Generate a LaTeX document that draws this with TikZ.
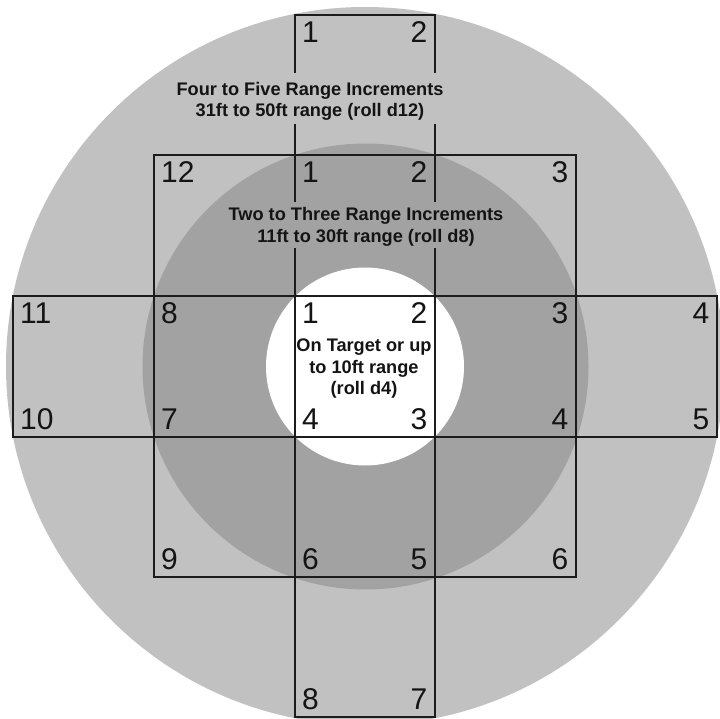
\documentclass[tikz,border=0pt]{standalone}
\usepackage{fontspec}
\setmainfont{Liberation Sans}
\definecolor{outergray}{RGB}{193,193,193}
\definecolor{innergray}{RGB}{162,162,162}
\definecolor{linecol}{RGB}{28,28,28}
\definecolor{txtcol}{RGB}{20,20,20}
\begin{document}
\begin{tikzpicture}[x=1pt,y=-1pt,
  gridline/.style={draw=linecol, line width=1.6pt, line cap=rect},
  num/.style={font=\fontsize{30}{36}\selectfont, inner sep=0pt, text=txtcol},
  lbl/.style={font=\fontsize{18.2}{22}\selectfont\bfseries, inner sep=0pt, anchor=base, text=txtcol}]
\path[use as bounding box] (0,0) rectangle (720,719);
\clip (0,0) rectangle (720,719);
\fill[white] (0,0) rectangle (720,719);
% rings
\fill[outergray] (365,366) circle [radius=359pt];
\fill[innergray] (365.5,366.5) circle [radius=223pt];
\fill[white] (365,366.5) circle [radius=99pt];
% horizontal lines
\draw[gridline] (295,15) -- (435,15);
\draw[gridline] (154,155) -- (576,155);
\draw[gridline] (13,296) -- (717,296);
\draw[gridline] (13,437) -- (717,437);
\draw[gridline] (154,577) -- (576,577);
\draw[gridline] (295,717) -- (435,717);
% vertical lines
\draw[gridline] (13,296) -- (13,437);
\draw[gridline] (717,296) -- (717,437);
\draw[gridline] (154,155) -- (154,577);
\draw[gridline] (576,155) -- (576,577);
\foreach \xx in {295,435}{
  \draw[gridline] (\xx,15) -- (\xx,72.7);
  \draw[gridline] (\xx,125) -- (\xx,201);
  \draw[gridline] (\xx,249) -- (\xx,717);
}
% top box
\node[num, anchor=north west] (ta) at (302,21.5) {1};
\node[num, anchor=north east] (tb) at (427.5,21.5) {2};
% middle box, upper row
\node[num, anchor=north west] (ma) at (161,161.5) {12};
\node[num, anchor=north west] (mb) at (302,161.5) {1};
\node[num, anchor=north east] (mc) at (427.5,161.5) {2};
\node[num, anchor=north east] (md) at (568.5,161.5) {3};
% wide band
\node[num, anchor=north west] (wa) at (20,302.5) {11};
\node[num, anchor=south west] (wb) at (20,429.5) {10};
\node[num, anchor=north west] (wc) at (161,302.5) {8};
\node[num, anchor=south west] (wd) at (161,429.5) {7};
\node[num, anchor=north west] (ca) at (302,302.5) {1};
\node[num, anchor=north east] (cb) at (427.5,302.5) {2};
\node[num, anchor=south west] (cc) at (302,429.5) {4};
\node[num, anchor=south east] (cd) at (427.5,429.5) {3};
\node[num, anchor=north east] (we) at (568.5,302.5) {3};
\node[num, anchor=south east] (wf) at (568.5,429.5) {4};
\node[num, anchor=north east] (wg) at (709.5,302.5) {4};
\node[num, anchor=south east] (wh) at (709.5,429.5) {5};
% middle box, lower row
\node[num, anchor=south west] (la) at (161,569.5) {9};
\node[num, anchor=south west] (lb) at (302,569.5) {6};
\node[num, anchor=south east] (lc) at (427.5,569.5) {5};
\node[num, anchor=south east] (ld) at (568.5,569.5) {6};
% bottom box
\node[num, anchor=south west] (ba) at (302,709.5) {8};
\node[num, anchor=south east] (bb) at (427.5,709.5) {7};
% range labels
\node[lbl] (far1) at (310,96) {Four to Five Range Increments};
\node[lbl] (far2) at (310,116.7) {31ft to 50ft range (roll d12)};
\node[lbl] (mid1) at (366,221) {Two to Three Range Increments};
\node[lbl] (mid2) at (366,242.7) {11ft to 30ft range (roll d8)};
\node[lbl] (on1) at (364,351.7) {On Target or up};
\node[lbl] (on2) at (364,373.2) {to 10ft range};
\node[lbl] (on3) at (364,394.7) {(roll d4)};
\end{tikzpicture}
\end{document}
